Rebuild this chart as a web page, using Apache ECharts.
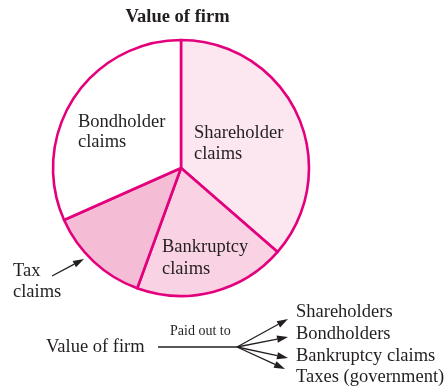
<!DOCTYPE html>
<html>
<head>
<meta charset="utf-8">
<script src="https://cdn.jsdelivr.net/npm/echarts@6/dist/echarts.min.js"></script>
<style>
  html, body { margin: 0; padding: 0; background: #fff; }
  #chart { width: 448px; height: 387px; }
</style>
</head>
<body>
<div id="chart"></div>
<script>
// slices, in degrees of the circle, clockwise from the top
var claims = ['Shareholder claims', 'Bankruptcy claims', 'Tax claims', 'Bondholder claims'];
var shares = [131, 69, 46, 114];
var sliceColors = ['#fce6f0', '#f9d2e4', '#f5bcd6', '#ffffff'];
var payees = ['Shareholders', 'Bondholders', 'Bankruptcy claims', 'Taxes (government)'];

var PINK = '#e4007c';
var INK = '#231f20';
var SERIF = '"Liberation Serif", "DejaVu Serif", serif';

// text placed by its left edge and baseline
function txt(x, base, s, size, bold, align) {
  return {
    type: 'text', x: x, y: base - size * 0.34, z: 100, silent: true,
    style: {
      text: s, fill: INK, font: (bold ? 'bold ' : '') + size + 'px ' + SERIF,
      textAlign: align || 'left', textVerticalAlign: 'middle'
    }
  };
}

// line with a filled head at (x2, y2)
function arrow(x1, y1, x2, y2, w) {
  var a = Math.atan2(y2 - y1, x2 - x1), L = 11, H = 3.6;
  var bx = x2 - L * Math.cos(a), by = y2 - L * Math.sin(a);
  var px = -Math.sin(a) * H, py = Math.cos(a) * H;
  return [
    { type: 'line', z: 100, silent: true, shape: { x1: x1, y1: y1, x2: bx, y2: by }, style: { stroke: INK, lineWidth: w || 1.3 } },
    { type: 'polygon', z: 100, silent: true, shape: { points: [[x2, y2], [bx + px, by + py], [bx - px, by - py]] }, style: { fill: INK } }
  ];
}

var g = [];
g.push(txt(177.5, 24, 'Value of firm', 18.5, true, 'center'));
// labels inside the pie
g.push(txt(78, 128, 'Bondholder', 18.5), txt(78, 148, 'claims', 18.5));
g.push(txt(194, 139, 'Shareholder', 18.5), txt(194, 160, 'claims', 18.5));
g.push(txt(162, 253, 'Bankruptcy', 18.5), txt(162, 275, 'claims', 18.5));
g.push(txt(13, 277, 'Tax', 18.5), txt(13, 298, 'claims', 18.5));
g = g.concat(arrow(52, 276, 84, 259));

// payout diagram
g.push(txt(46, 353, 'Value of firm', 18.5));
g.push(txt(170, 336, 'Paid out to', 14));
g.push({ type: 'line', z: 100, silent: true, shape: { x1: 158, y1: 347, x2: 238, y2: 347 }, style: { stroke: INK, lineWidth: 1.6 } });
var tips = [[288, 319], [288, 337], [288, 358], [285, 369]];
var bases = [318, 340, 362, 383];
for (var i = 0; i < payees.length; i++) {
  g = g.concat(arrow(237, 347, tips[i][0], tips[i][1]));
  g.push(txt(296, bases[i], payees[i], 18.5));
}

var chart = echarts.init(document.getElementById('chart'));
chart.setOption({
  backgroundColor: '#fff',
  animation: false,
  series: [{
    type: 'pie',
    center: [181, 168],
    radius: [0, 128],
    startAngle: 90,
    clockwise: true,
    label: { show: false },
    labelLine: { show: false },
    emphasis: { disabled: true },
    itemStyle: { borderColor: PINK, borderWidth: 2.6 },
    data: claims.map(function (c, i) {
      return { name: c, value: shares[i], itemStyle: { color: sliceColors[i] } };
    })
  }],
  graphic: g
});
</script>
</body>
</html>
